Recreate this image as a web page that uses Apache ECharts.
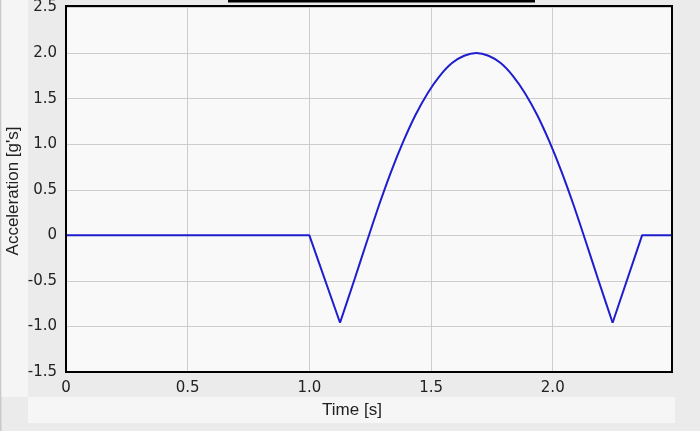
<!DOCTYPE html>
<html>
<head>
<meta charset="utf-8">
<script src="https://cdn.jsdelivr.net/npm/echarts@6/dist/echarts.min.js"></script>
<style>
html,body{margin:0;padding:0;background:#ebebeb;}
#c{width:700px;height:431px;}
</style>
</head>
<body>
<div id="c"></div>
<script>
var timeValues = [0, 1.0, 1.126, 1.186, 1.236, 1.286, 1.336, 1.386, 1.436, 1.486, 1.536, 1.586, 1.636, 1.686, 1.736, 1.786, 1.836, 1.886, 1.936, 1.986, 2.036, 2.086, 2.136, 2.186, 2.246, 2.367, 2.49];
var accelValues = [0, 0, -0.96, -0.48, -0.07, 0.33, 0.70, 1.03, 1.32, 1.56, 1.75, 1.89, 1.97, 2.0, 1.97, 1.89, 1.75, 1.56, 1.32, 1.03, 0.70, 0.33, -0.07, -0.48, -0.96, 0, 0];
var xTickLabels = ['0', '0.5', '1.0', '1.5', '2.0'];
var yTickLabels = ['-1.5', '-1.0', '-0.5', '0', '0.5', '1.0', '1.5', '2.0', '2.5'];

var pts = timeValues.map(function (t, i) { return [t, accelValues[i]]; });
// straight segments before/after the curved arc (arc spans between the two minima)
var firstMin = 2, lastMin = 24;
var leftPart = pts.slice(0, firstMin + 1);
var arcPart = pts.slice(firstMin, lastMin + 1);
var rightPart = pts.slice(lastMin);

var chart = echarts.init(document.getElementById('c'));
var tickFont = 'DejaVu Sans, Verdana, sans-serif';
var nameFont = '17px "Liberation Sans", Arial, sans-serif';
var lineStyle = { color: '#1e1ecf', width: 2 };
chart.setOption({
  backgroundColor: '#ebebeb',
  animation: false,
  graphic: [
    { type: 'rect', z: -10, shape: { x: 0, y: 0, width: 1.5, height: 431 }, style: { fill: '#c9c9c9' } },
    { type: 'rect', z: -10, shape: { x: 1.5, y: 0, width: 26.5, height: 397 }, style: { fill: '#f5f5f5' } },
    { type: 'rect', z: -10, shape: { x: 28, y: 397, width: 647, height: 26 }, style: { fill: '#f6f6f6' } },
    { type: 'rect', z: 10, shape: { x: 228, y: 0, width: 307, height: 2.5 }, style: { fill: '#000' } },
    { type: 'rect', z: 100, shape: { x: 66, y: 6, width: 606, height: 366 }, style: { fill: 'none', stroke: '#000', lineWidth: 2 } },
    { type: 'text', z: 10, rotation: Math.PI / 2,
      x: 13, y: 191, style: { text: "Acceleration [g's]", font: nameFont, fill: '#222', textAlign: 'center', textVerticalAlign: 'middle' } },
    { type: 'text', z: 10, x: 352, y: 410, style: { text: 'Time [s]', font: nameFont, fill: '#222', textAlign: 'center', textVerticalAlign: 'middle' } }
  ],
  grid: {
    left: 66, top: 6, right: 28, bottom: 59,
    show: true, backgroundColor: '#f9f9f9', borderWidth: 0
  },
  xAxis: {
    type: 'value', min: 0, max: 2.49, interval: 0.5,
    axisLine: { show: false }, axisTick: { show: false },
    splitLine: { show: true, lineStyle: { color: '#cdcdcd', width: 1 } },
    axisLabel: {
      showMaxLabel: false, margin: 9,
      color: '#222', fontFamily: tickFont, fontSize: 15,
      formatter: function (v) { var i = Math.round(v / 0.5); return (Math.abs(v - i * 0.5) < 1e-6 && xTickLabels[i] !== undefined) ? xTickLabels[i] : ''; }
    }
  },
  yAxis: {
    type: 'value', min: -1.5, max: 2.5, interval: 0.5,
    axisLine: { show: false }, axisTick: { show: false },
    splitLine: { show: true, lineStyle: { color: '#cdcdcd', width: 1 } },
    axisLabel: {
      margin: 9, color: '#222', fontFamily: tickFont, fontSize: 15,
      formatter: function (v) { var i = Math.round((v + 1.5) / 0.5); return yTickLabels[i] !== undefined ? yTickLabels[i] : ''; }
    }
  },
  series: [
    { type: 'line', data: leftPart, showSymbol: false, lineStyle: lineStyle },
    { type: 'line', data: arcPart, showSymbol: false, smooth: 0.25, lineStyle: lineStyle },
    { type: 'line', data: rightPart, showSymbol: false, lineStyle: lineStyle }
  ]
});
</script>
</body>
</html>
